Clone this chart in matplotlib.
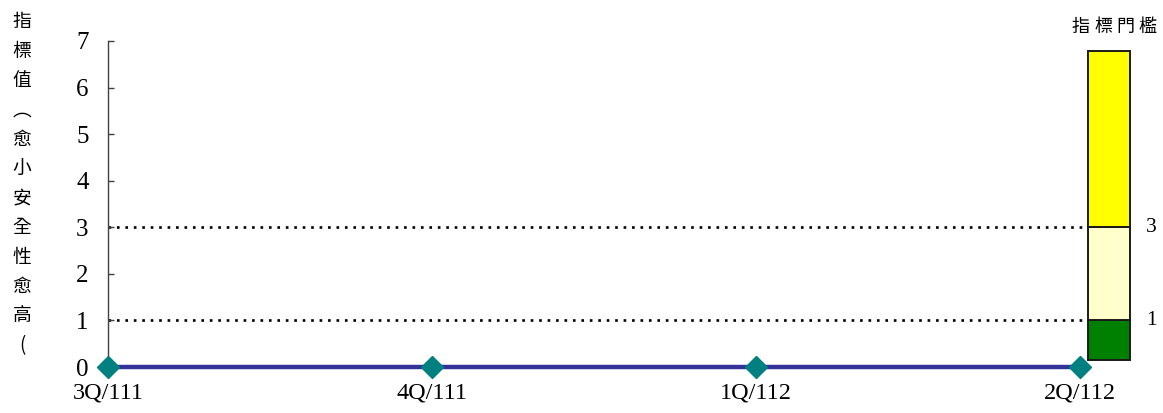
import matplotlib
matplotlib.use("Agg")
import matplotlib.pyplot as plt

# ---- data ----
quarters = ["3Q/111", "4Q/111", "1Q/112", "2Q/112"]
values = [0, 0, 0, 0]
thresholds = [1, 3]
threshold_labels = ["1", "3"]
bar_bottom = 0.15
bar_top = 6.78
yticks = [0, 1, 2, 3, 4, 5, 6, 7]
ylabel_text = "指標值︵愈小安全性愈高("
legend_title = "指標門檻"

W, H = 1163, 413
fig = plt.figure(figsize=(W / 100, H / 100), dpi=100)

def fx(px):
    return px / W

def fy(py):
    return 1 - py / H

serif = ["Liberation Serif", "DejaVu Serif"]
cjk = ["Noto Sans CJK TC", "DejaVu Sans"]

# main axes: spine at x=108, y=0 at 367, y=7 at 41
left_px, right_px = 108, 1085
x0_px, x3_px = 108, 1080
ax = fig.add_axes([fx(left_px), fy(367), fx(right_px - left_px), (367 - 41) / H])
ax.set_ylim(0, 7)
xmax = 3 * (right_px - left_px) / (x3_px - x0_px)
ax.set_xlim(0, xmax)
ax.patch.set_alpha(0)

for s in ["top", "right", "bottom"]:
    ax.spines[s].set_visible(False)
ax.spines["left"].set_color("#404040")
ax.spines["left"].set_linewidth(1.0)

ax.set_yticks(yticks)
ax.set_yticklabels([str(t) for t in yticks], fontfamily=serif, fontsize=18)
ax.tick_params(axis="y", direction="in", length=4, width=1, color="#404040", pad=14)

xs = list(range(len(quarters)))
ax.set_xticks(xs)
ax.set_xticklabels(quarters, fontfamily=serif, fontsize=17.5)
ax.tick_params(axis="x", length=0, pad=11)

for t in thresholds:
    ax.axhline(t, color="black", linestyle=(0, (1, 2.2)), linewidth=1.9, zorder=1)

ax.plot(xs, values, color="#333399", linewidth=3.2, zorder=3, clip_on=False,
        marker="D", markersize=11, markerfacecolor="#008080", markeredgecolor="#008080")

# threshold bar
bx = fig.add_axes([fx(1088), fy(367), fx(1130 - 1088), (367 - 41) / H])
bx.set_ylim(0, 7)
bx.set_xlim(0, 1)
bx.axis("off")
segs = [(bar_bottom, thresholds[0], "#008000"),
        (thresholds[0], thresholds[1], "#FFFFCC"),
        (thresholds[1], bar_top, "#FFFF00")]
for b, t, c in segs:
    bx.bar(0.5, t - b, bottom=b, width=1.0, color=c, edgecolor="#1a1a1a",
           linewidth=1.4, clip_on=False)
for t, lab in zip(thresholds, threshold_labels):
    bx.text(1.5, t, lab, transform=bx.get_yaxis_transform(), ha="center", va="center",
            fontfamily=serif, fontsize=15.5)

# legend title above bar
title_x = [1081, 1103, 1125, 1147]
for ch, x in zip(legend_title, title_x):
    fig.text(fx(x), fy(27), ch, ha="center", va="center", fontfamily=cjk, fontsize=13)

# vertical y label
for i, ch in enumerate(ylabel_text):
    fig.text(fx(22), fy(22 + i * 29.4), ch, ha="center", va="center",
             fontfamily=cjk, fontsize=13.5)

fig.savefig("out.png", dpi=100)
